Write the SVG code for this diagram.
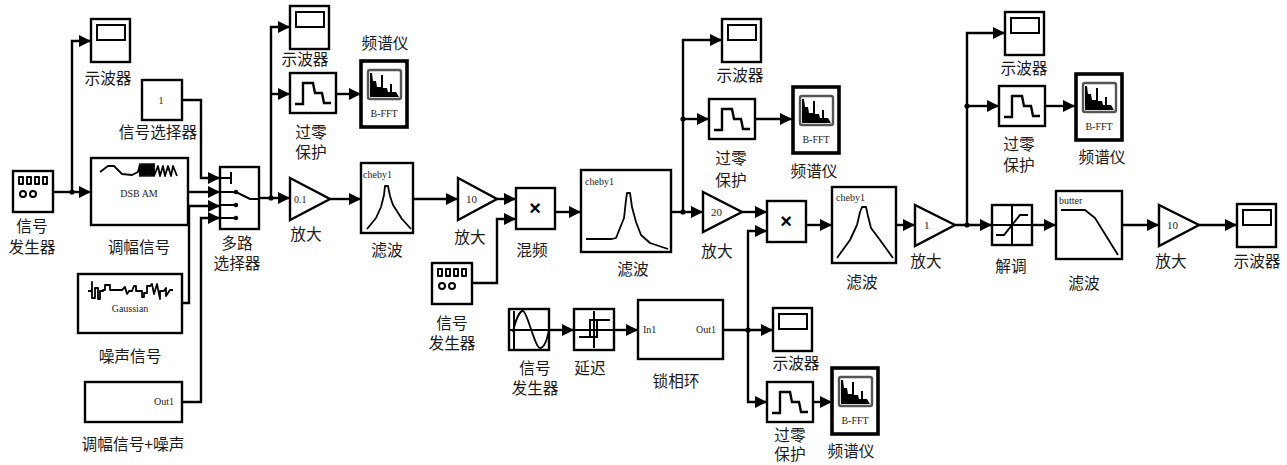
<svg xmlns="http://www.w3.org/2000/svg" xmlns:xlink="http://www.w3.org/1999/xlink" width="1287" height="465" viewBox="0 0 1287 465">
<style>
.b{fill:#fff;stroke:#000;stroke-width:2.4}
.th{fill:#fff;stroke:#000;stroke-width:3.6}
.ic{fill:none;stroke:#000;stroke-width:2}
.wv{fill:none;stroke:#000;stroke-width:1.8;stroke-linejoin:round}
.c{fill:none;stroke:#000;stroke-width:2.4}
.c.a{marker-end:url(#ah)}
.l{font-family:"Noto Sans CJK SC","Liberation Sans",sans-serif;font-size:15.7px;fill:#1a1a1a;text-anchor:middle}
.s{font-family:"Liberation Serif",serif;font-size:10px;fill:#222}
.m{text-anchor:middle}
.n{font-size:11px}
.x{font-family:"Liberation Sans",sans-serif;font-size:20px;font-weight:bold;fill:#000;text-anchor:middle}
</style>
<defs>
<marker id="ah" markerUnits="userSpaceOnUse" markerWidth="13" markerHeight="12" refX="12" refY="6" orient="auto"><path d="M0 0L12 6L0 12Z" fill="#000"/></marker>
<g id="scope"><rect class="b" x="0" y="0" width="39" height="43"/><rect class="ic" x="6" y="6" width="28" height="15"/></g>
<g id="gen"><rect class="b" x="0" y="0" width="40" height="41"/><g fill="#000"><rect x="5" y="5" width="6" height="9" rx="1"/><rect x="13" y="5" width="6" height="9" rx="1"/><rect x="21" y="5" width="6" height="9" rx="1"/><rect x="29" y="5" width="6" height="9" rx="1"/></g><g fill="#fff"><rect x="7" y="7" width="2" height="5"/><rect x="15" y="7" width="2" height="5"/><rect x="23" y="7" width="2" height="5"/><rect x="31" y="7" width="2" height="5"/></g><circle class="ic" cx="10" cy="23" r="3" stroke-width="2.4"/><circle class="ic" cx="20" cy="23" r="3"/></g>
<g id="zero"><rect class="b" x="0" y="0" width="46" height="40"/><path class="ic" style="stroke-width:2.4" d="M5 31H13V10H23L25 20H32L34 30H41"/></g>
<g id="spec"><rect class="th" x="0" y="0" width="46" height="66"/><rect fill="#fff" stroke="#555" stroke-width="2.4" x="7" y="9" width="33" height="29" rx="2"/><path fill="#000" d="M9 12H11L12 20H15L16 26H20V14H22V27H26L27 31H29V23H31V31H35L38 36H9Z"/><text class="s m" x="23" y="56">B-FFT</text></g>
</defs>

<g id="connectors">
<path class="c" d="M53 192H72"/><path class="c a" d="M72 192H91"/><path class="c a" d="M72 192V41H91"/>
<path class="c a" d="M182 100H201V178H220"/>
<path class="c a" d="M188 192H220"/>
<path class="c a" d="M182 303H189V206H220"/>
<path class="c a" d="M182 402H201V218H220"/>
<path class="c a" d="M271 198H290"/><path class="c a" d="M271 198V27H290"/><path class="c a" d="M271 94H290"/>
<path class="c" d="M259 198H271"/>
<path class="c a" d="M336 94H361"/>
<path class="c a" d="M330 199H361"/>
<path class="c a" d="M413 199H458"/>
<path class="c a" d="M497 199H516"/>
<path class="c a" d="M472 283H497V219H516"/>
<path class="c a" d="M555 212H581"/>
<path class="c a" d="M671 212H703"/><path class="c a" d="M683 212V40H722"/><path class="c a" d="M683 119H709"/>
<path class="c a" d="M755 119H792"/>
<path class="c a" d="M742 212H767"/>
<path class="c a" d="M723 330H773"/><path class="c a" d="M748 330V231H767"/><path class="c a" d="M748 330V402H767"/>
<path class="c a" d="M812 402H832"/>
<path class="c a" d="M806 225H832"/>
<path class="c a" d="M896 225H915"/>
<path class="c a" d="M955 225H992"/><path class="c a" d="M967 225V33H1005"/><path class="c a" d="M967 106H999"/>
<path class="c a" d="M1044 106H1075"/>
<path class="c a" d="M1032 225H1056"/>
<path class="c a" d="M1122 225H1159"/>
<path class="c a" d="M1199 225H1237"/>
<path class="c a" d="M549 330H574"/>
<path class="c a" d="M614 330H638"/>
<g fill="#000"><circle cx="72" cy="192" r="2.6"/><circle cx="271" cy="198" r="2.6"/><circle cx="683" cy="212" r="2.6"/><circle cx="683" cy="119" r="2.6"/><circle cx="748" cy="330" r="2.6"/><circle cx="967" cy="225" r="2.6"/><circle cx="967" cy="106" r="2.6"/></g>
</g>

<g id="gen1"><use xlink:href="#gen" href="#gen" x="13" y="171"/><text class="l" x="32" y="232">信号<tspan x="32" dy="21">发生器</tspan></text></g>
<g id="scope1"><use xlink:href="#scope" href="#scope" x="91" y="19"/><text class="l" x="108" y="84">示波器</text></g>
<g id="selector"><rect class="b" x="142" y="80" width="40" height="40"/><text class="s m" x="161" y="104">1</text><text class="l" x="158" y="138">信号选择器</text></g>
<g id="am"><rect class="b" x="91" y="158" width="97" height="67"/><path class="wv" d="M100 172L108 166L114 166L122 174L132 175L138 172L140 164V176L142 164V176L144 164V176L146 164V176L148 164V176L150 164V176L152 164V176L154 164V176L158 166L160 176L163 166L165 176L168 166L171 176L173 166L177 176"/><text class="s m" x="139" y="197">DSB AM</text><text class="l" x="139" y="253">调幅信号</text></g>
<g id="noise"><rect class="b" x="78" y="274" width="104" height="59"/><path class="wv" d="M88 291H92V282V298H95V288H98V299H100V291H103V290H105V285H110V290H122L125 287L127 294L129 291H132L134 286H136V291H142V297H144V293H147V286H150L152 284L154 294L157 284L160 299V291H164L166 288V296L170 290H173"/><text class="s m" x="130" y="312">Gaussian</text><text class="l" x="130" y="362">噪声信号</text></g>
<g id="sum"><rect class="b" x="85" y="382" width="97" height="40"/><text class="s" x="154" y="405">Out1</text><text class="l" x="133" y="450">调幅信号+噪声</text></g>
<g id="mux"><rect class="b" x="220" y="167" width="39" height="62"/><path class="ic" d="M220 178H231M231 172V184M220 192H236L250 199H259M220 205H236M220 218H236"/><g fill="#000"><circle cx="236" cy="192" r="2.2"/><circle cx="236" cy="205" r="2.2"/><circle cx="236" cy="218" r="2.2"/></g><text class="l" x="237" y="249">多路<tspan x="237" dy="20">选择器</tspan></text></g>
<g id="scope2"><use xlink:href="#scope" href="#scope" x="290" y="6"/><text class="l" x="305" y="65">示波器</text></g>
<g id="zero1"><use xlink:href="#zero" href="#zero" x="290" y="73"/><text class="l" x="311" y="138">过零<tspan x="311" dy="20">保护</tspan></text></g>
<g id="spec1"><use xlink:href="#spec" href="#spec" x="361" y="61"/><text class="l" x="385" y="49">频谱仪</text></g>
<g id="gain1"><path class="b" d="M290 178L330 199L290 220Z"/><text class="s" x="294" y="203">0.1</text><text class="l" x="306" y="240">放大</text></g>
<g id="filter1"><rect class="b" x="361" y="163" width="52" height="70"/><text class="s" x="363" y="178">cheby1</text><path class="wv" d="M367 229L376 218L381 207L384 195L385 186H388L390 196L393 205L402 219L411 229"/><text class="l" x="387" y="256">滤波</text></g>
<g id="gain2"><path class="b" d="M458 178L497 199L458 220Z"/><text class="s n" x="466" y="203">10</text><text class="l" x="470" y="243">放大</text></g>
<g id="mixer1"><rect class="b" x="516" y="188" width="39" height="41"/><text class="x" x="535" y="215">×</text><text class="l" x="532" y="256">混频</text></g>
<g id="gen2"><use xlink:href="#gen" href="#gen" x="432" y="263"/><text class="l" x="452" y="329">信号<tspan x="452" dy="20">发生器</tspan></text></g>
<g id="filter2"><rect class="b" x="581" y="170" width="90" height="82"/><text class="s" x="585" y="185">cheby1</text><path class="wv" d="M586 239H612L616 238L620 228L624 218L626 200L627 193H630L632 207L636 222L641 235L650 243L668 249"/><text class="l" x="633" y="275">滤波</text></g>
<g id="scope3"><use xlink:href="#scope" href="#scope" x="722" y="19"/><text class="l" x="740" y="81">示波器</text></g>
<g id="zero2"><use xlink:href="#zero" href="#zero" x="709" y="99"/><text class="l" x="731" y="164">过零<tspan x="731" dy="22">保护</tspan></text></g>
<g id="spec2"><use xlink:href="#spec" href="#spec" x="793" y="87"/><text class="l" x="814" y="177">频谱仪</text></g>
<g id="gain3"><path class="b" d="M703 192L742 212L703 232Z"/><text class="s n" x="711" y="216">20</text><text class="l" x="717" y="257">放大</text></g>
<g id="mixer2"><rect class="b" x="767" y="201" width="39" height="41"/><text class="x" x="786" y="228">×</text></g>
<g id="filter3"><rect class="b" x="832" y="187" width="64" height="76"/><text class="s" x="836" y="201">cheby1</text><path class="wv" d="M837 258L850 240L857 225L860 212L862 207H866L868 216L871 228L880 240L893 258"/><text class="l" x="862" y="288">滤波</text></g>
<g id="gain4"><path class="b" d="M915 205L955 225L915 246Z"/><text class="s n" x="924" y="229">1</text><text class="l" x="926" y="267">放大</text></g>
<g id="demod"><rect class="b" x="992" y="205" width="40" height="40"/><path class="ic" d="M1012 205V245M992 225H1032M996 235H1004L1020 215H1028"/><text class="l" x="1011" y="272">解调</text></g>
<g id="lpf"><rect class="b" x="1056" y="191" width="66" height="68"/><text class="s" x="1059" y="204">butter</text><path class="wv" d="M1061 210H1085L1095 218L1118 255"/><text class="l" x="1084" y="289">滤波</text></g>
<g id="gain5"><path class="b" d="M1159 205L1199 225L1159 246Z"/><text class="s n" x="1167" y="229">10</text><text class="l" x="1171" y="267">放大</text></g>
<g id="scope6"><use xlink:href="#scope" href="#scope" x="1237" y="204"/><text class="l" x="1257" y="267">示波器</text></g>
<g id="scope5"><use xlink:href="#scope" href="#scope" x="1005" y="12"/><text class="l" x="1024" y="74">示波器</text></g>
<g id="zero3"><use xlink:href="#zero" href="#zero" x="999" y="86"/><text class="l" x="1019" y="150">过零<tspan x="1019" dy="21">保护</tspan></text></g>
<g id="spec3"><use xlink:href="#spec" href="#spec" x="1076" y="74"/><text class="l" x="1102" y="163">频谱仪</text></g>
<g id="sine"><rect class="b" x="509" y="309" width="40" height="41"/><path class="ic" d="M514 311V349M509 330H549"/><path class="wv" d="M513 332C516 318 520 311 523 311C527 311 535 348 540 348C544 348 547 340 549 330"/><text class="l" x="535" y="374">信号<tspan x="535" dy="20">发生器</tspan></text></g>
<g id="delay"><rect class="b" x="574" y="309" width="40" height="41"/><path class="ic" d="M594 311V348M574 330H614M579 337H597V320H610M590 337V320H597"/><text class="l" x="590" y="374">延迟</text></g>
<g id="pll"><rect class="b" x="638" y="300" width="85" height="59"/><text class="s" x="643" y="333">In1</text><text class="s" x="696" y="333">Out1</text><text class="l" x="676" y="387">锁相环</text></g>
<g id="scope4"><use xlink:href="#scope" href="#scope" x="773" y="308"/><text class="l" x="796" y="369">示波器</text></g>
<g id="zero4"><use xlink:href="#zero" href="#zero" x="767" y="382"/><text class="l" x="790" y="441">过零<tspan x="790" dy="19">保护</tspan></text></g>
<g id="spec4"><use xlink:href="#spec" href="#spec" x="832" y="368"/><text class="l" x="851" y="457">频谱仪</text></g>
</svg>
